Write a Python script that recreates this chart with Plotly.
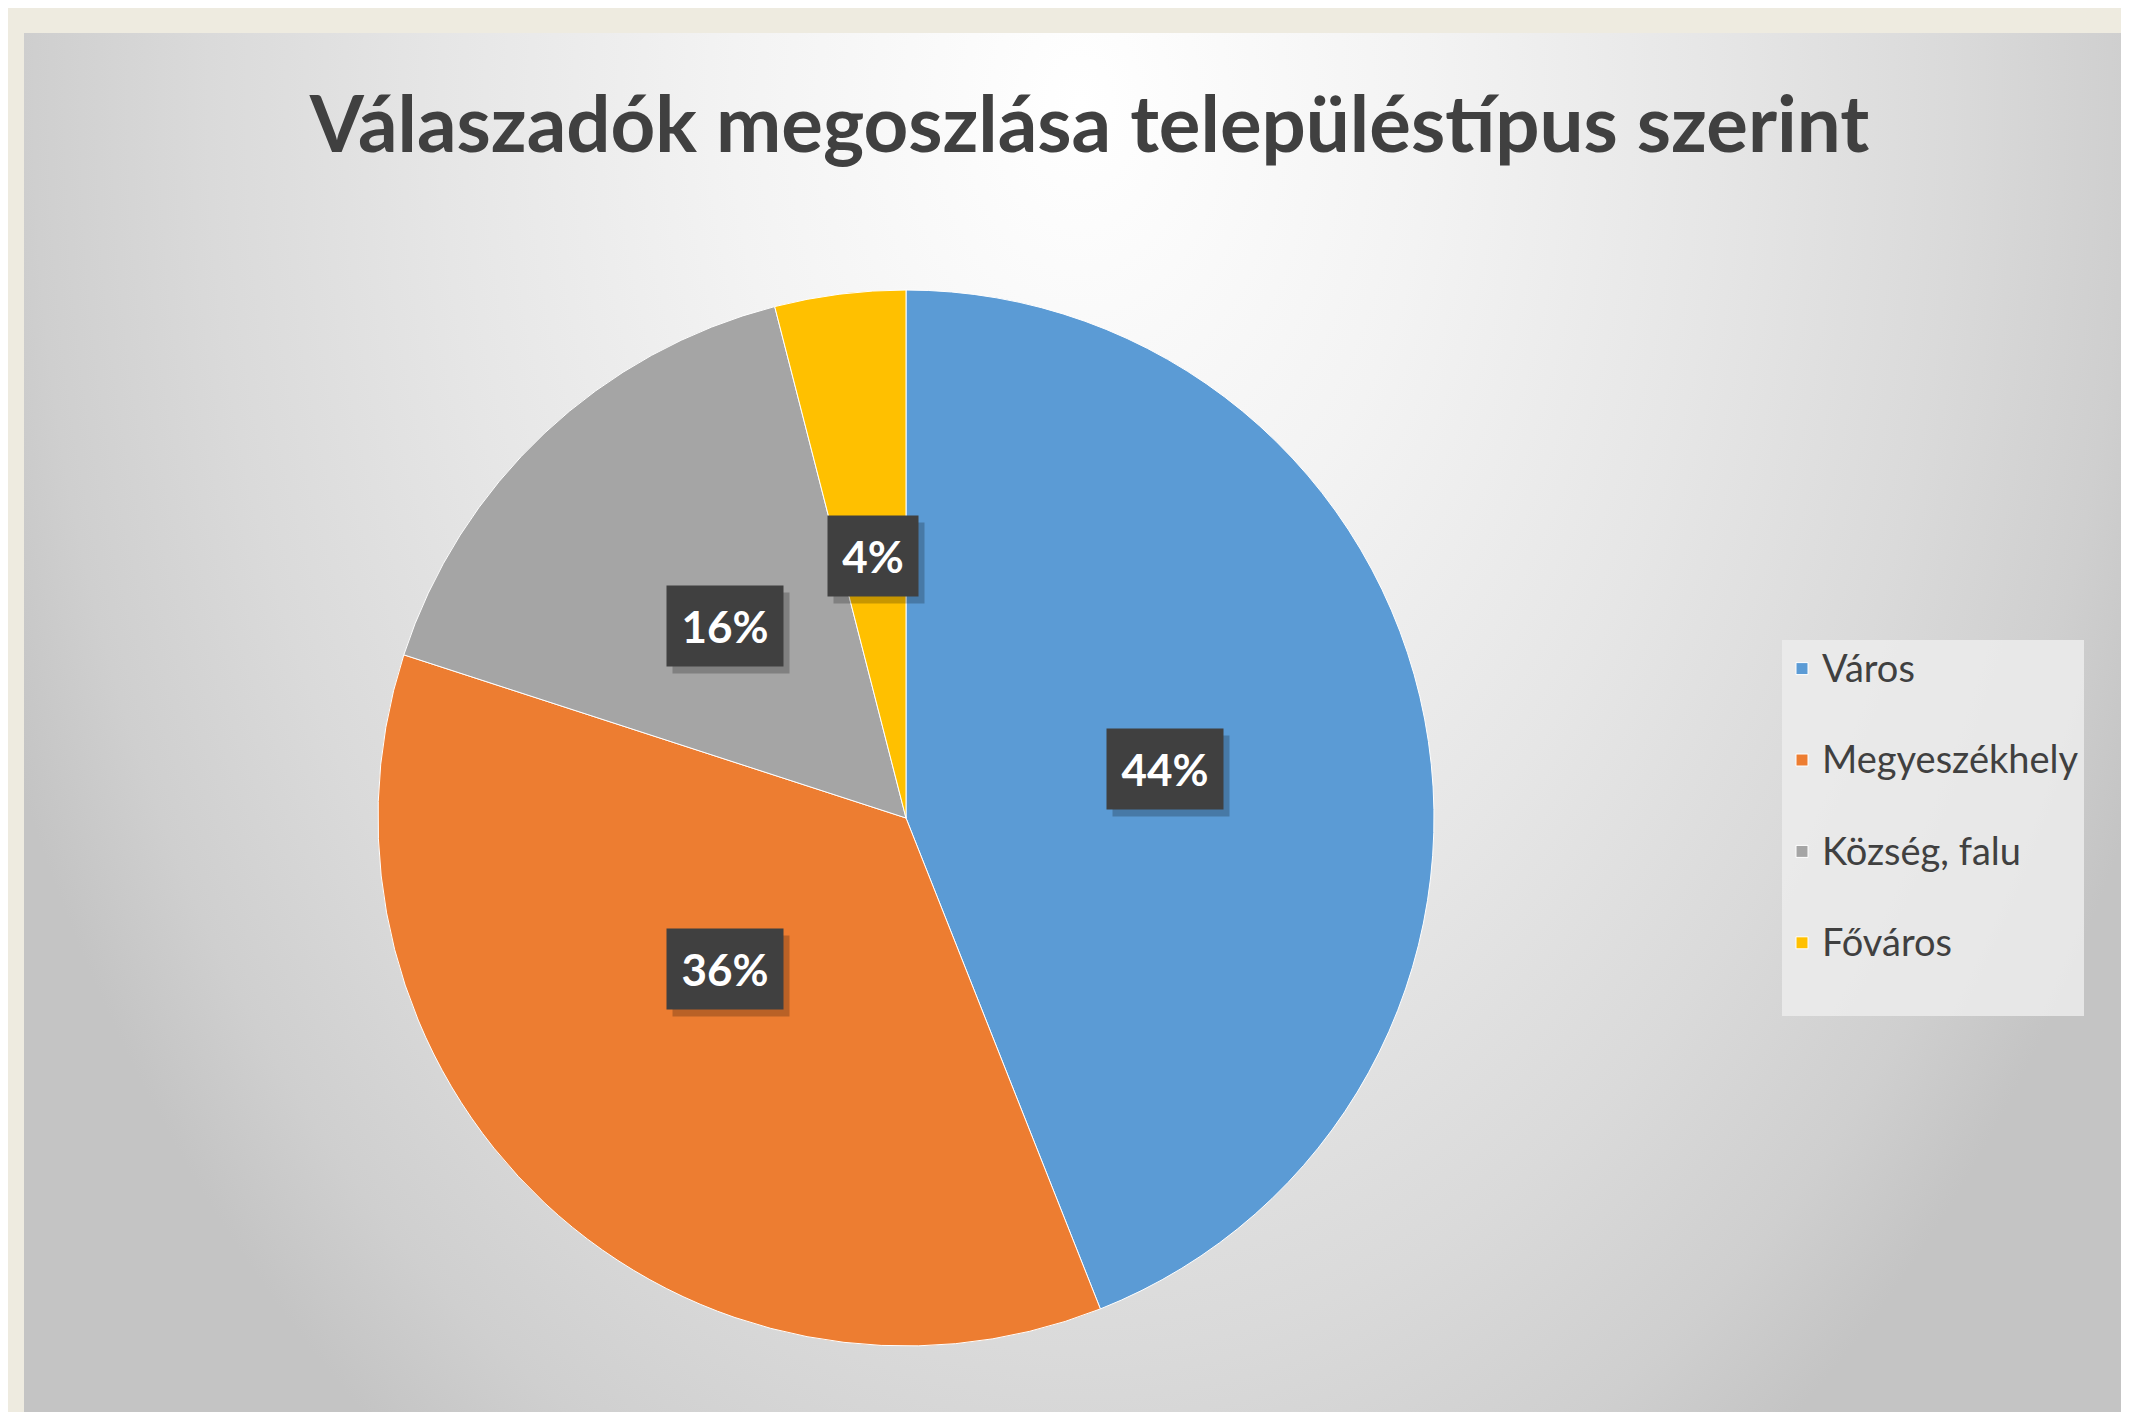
import base64
import math

import plotly.graph_objects as go

# ---------------------------------------------------------------------------
# Data
# ---------------------------------------------------------------------------
TITLE = "Válaszadók megoszlása településtípus szerint"
CATEGORIES = ["Város", "Megyeszékhely", "Község, falu", "Főváros"]
SHARES = [44, 36, 16, 4]
COLORS = ["#5B9BD5", "#ED7D31", "#A5A5A5", "#FFC000"]

# ---------------------------------------------------------------------------
# Layout geometry (pixels)
# ---------------------------------------------------------------------------
W, H = 2129, 1412
PANEL_LEFT, PANEL_TOP = 16, 25
PIE_CX, PIE_CY, PIE_R = 898, 810, 528
FONT = "Lato, 'Open Sans', sans-serif"
TEXT_COLOR = "#404040"

# soft radial background like the Office chart style
svg = (
    "<svg xmlns='http://www.w3.org/2000/svg' width='2113' height='1387' preserveAspectRatio='none'>"
    "<defs><radialGradient id='g' cx='0.5' cy='0.05' r='1' "
    "gradientTransform='translate(0.5 0.05) scale(0.55 1.2) translate(-0.5 -0.05)'>"
    "<stop offset='0' stop-color='#FFFFFF'/>"
    "<stop offset='0.3' stop-color='#F3F3F3'/>"
    "<stop offset='0.55' stop-color='#E6E6E6'/>"
    "<stop offset='0.75' stop-color='#DADADA'/>"
    "<stop offset='0.9' stop-color='#CFCFCF'/>"
    "<stop offset='1' stop-color='#C4C4C4'/>"
    "</radialGradient></defs>"
    "<rect width='100%' height='100%' fill='url(#g)'/></svg>"
)
bg_src = "data:image/svg+xml;base64," + base64.b64encode(svg.encode()).decode()

# legend rows in the original are widely spaced; an empty second line gives that room
legend_labels = [f"<span style='font-size:38px'>{c}</span><br> " for c in CATEGORIES]

fig = go.Figure(
    go.Pie(
        labels=legend_labels,
        values=SHARES,
        customdata=CATEGORIES,
        hovertemplate="%{customdata}: %{percent}<extra></extra>",
        marker=dict(colors=COLORS, line=dict(color="#FFFFFF", width=1)),
        sort=False,
        direction="clockwise",
        rotation=0,
        textinfo="none",
        domain=dict(
            x=[(PIE_CX - PIE_R) / W, (PIE_CX + PIE_R) / W],
            y=[(H - PIE_CY - PIE_R) / H, (H - PIE_CY + PIE_R) / H],
        ),
    )
)

# data labels: dark boxes halfway along each slice's middle angle
total = sum(SHARES)
cum = 0
for share in SHARES:
    mid = (cum + share / 2) / total * 2 * math.pi
    cum += share
    px_x = PIE_CX + 0.5 * PIE_R * math.sin(mid)
    px_y = PIE_CY - 0.5 * PIE_R * math.cos(mid)
    label = f"{round(share / total * 100)}%"
    box_w = 26 * (len(label) - 1) + 36
    common = dict(
        x=px_x / W, y=1 - px_y / H, xref="paper", yref="paper",
        showarrow=False, width=box_w, borderpad=14,
        font=dict(family=FONT, size=44, color="#FFFFFF", weight="bold"),
    )
    # shadow
    fig.add_annotation(text=" ", bgcolor="rgba(0,0,0,0.22)", xshift=6, yshift=-7, **common)
    fig.add_annotation(text=label, bgcolor="#404040", **common)

fig.add_layout_image(
    source=bg_src, xref="paper", yref="paper",
    x=PANEL_LEFT / W, y=1 - PANEL_TOP / H,
    sizex=1 - PANEL_LEFT / W, sizey=1 - PANEL_TOP / H,
    xanchor="left", yanchor="top", sizing="stretch", layer="below",
)

fig.update_layout(
    width=W,
    height=H,
    margin=dict(l=0, r=0, t=0, b=0),
    paper_bgcolor="#EEEBE0",
    plot_bgcolor="rgba(0,0,0,0)",
    font=dict(family=FONT, color=TEXT_COLOR),
    title=dict(
        text=TITLE,
        x=0.508, xanchor="center",
        y=1 - 117 / H, yanchor="middle",
        font=dict(family=FONT, size=78, color="#404040", weight="bold"),
    ),
    showlegend=True,
    legend=dict(
        x=1774 / W, xanchor="left",
        y=1 - 820 / H, yanchor="middle",
        bgcolor="rgba(236,236,236,0.85)",
        borderwidth=0,
        valign="top",
        font=dict(family=FONT, size=34, color=TEXT_COLOR),
        traceorder="normal",
    ),
)

fig.write_html("out.html")
